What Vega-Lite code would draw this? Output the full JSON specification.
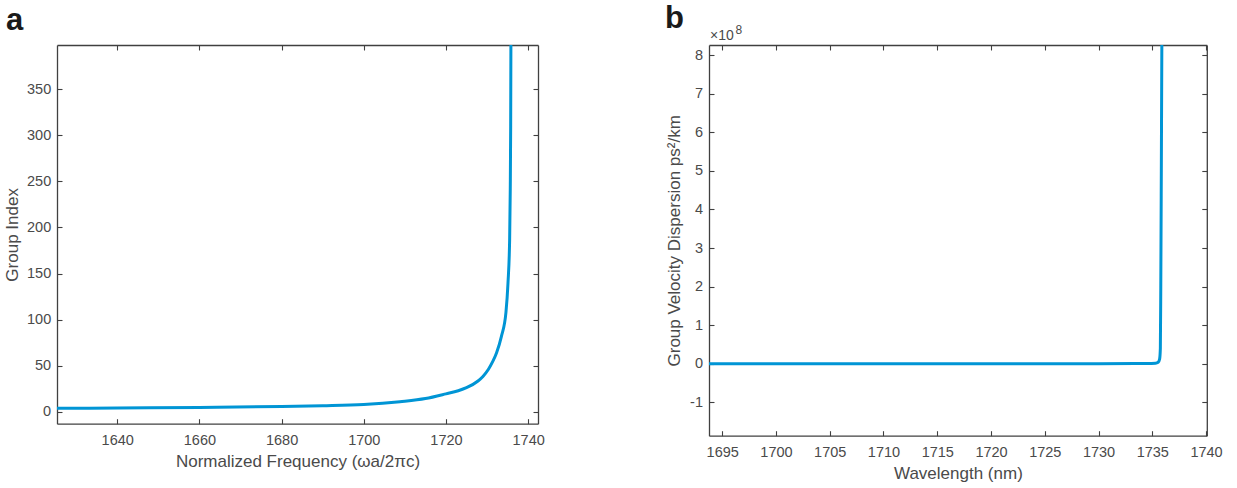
{
  "$schema": "https://vega.github.io/schema/vega-lite/v6.json",
  "padding": {"left": 3, "top": 2, "right": 0, "bottom": 0},
  "background": "white",
  "bounds": "flush",
  "spacing": 171,
  "config": {
    "font": "Liberation Sans",
    "view": {"stroke": null},
    "axis": {
      "grid": false,
      "domainColor": "#404040",
      "domainWidth": 1.3,
      "tickColor": "#404040",
      "tickWidth": 1.1,
      "tickSize": -5,
      "labelColor": "#4a4a4a",
      "titleColor": "#4a4a4a",
      "labelFont": "Liberation Sans",
      "titleFont": "Liberation Sans",
      "labelFontSize": 14.5,
      "titleFontSize": 17,
      "titleFontWeight": "normal",
      "labelFlush": false,
      "labelOverlap": false,
      "labelBound": false,
      "format": "d"
    }
  },
  "hconcat": [
    {
      "width": 481,
      "height": 378.7,
      "title": {"text": "a", "anchor": "start", "frame": "group", "dx": -51, "fontSize": 31, "fontWeight": "bold", "color": "#1a1a1a", "font": "Liberation Sans", "offset": 7.6},
      "data": {"values": [
        {"f": 1625.35, "ng": 4.0},
        {"f": 1640, "ng": 4.3},
        {"f": 1660, "ng": 4.9},
        {"f": 1680, "ng": 5.9},
        {"f": 1690, "ng": 6.8},
        {"f": 1700, "ng": 8.2},
        {"f": 1708.8, "ng": 11.2},
        {"f": 1715, "ng": 14.5},
        {"f": 1720, "ng": 19.6},
        {"f": 1723, "ng": 23},
        {"f": 1725, "ng": 26.3},
        {"f": 1727.8, "ng": 33.6},
        {"f": 1729, "ng": 38.5},
        {"f": 1730.3, "ng": 46},
        {"f": 1731.3, "ng": 54},
        {"f": 1732.3, "ng": 64},
        {"f": 1733.5, "ng": 82},
        {"f": 1734.6, "ng": 108},
        {"f": 1735.1, "ng": 140},
        {"f": 1735.5, "ng": 187},
        {"f": 1735.65, "ng": 241},
        {"f": 1735.75, "ng": 310},
        {"f": 1735.82, "ng": 420}
      ]},
      "layer": [
        {
          "mark": {"type": "line", "clip": true, "color": "#0095d5", "strokeWidth": 3, "interpolate": "monotone"},
          "encoding": {
            "x": {"field": "f", "type": "quantitative", "scale": {"domain": [1625.35, 1742.4], "nice": false, "zero": false},
                  "axis": {"values": [1640, 1660, 1680, 1700, 1720, 1740], "title": "Normalized Frequency (ωa/2πc)", "labelPadding": 14.5, "titlePadding": 6.5}},
            "y": {"field": "ng", "type": "quantitative", "scale": {"domain": [-12.7, 397.7], "nice": false, "zero": false},
                  "axis": {"values": [0, 50, 100, 150, 200, 250, 300, 350], "title": "Group Index", "labelPadding": 11.3, "titlePadding": 5}}
          }
        },
        {
          "mark": {"type": "line", "opacity": 0, "clip": true},
          "encoding": {
            "x": {"field": "f", "type": "quantitative", "scale": {"domain": [1625.35, 1742.4], "nice": false, "zero": false},
                  "axis": {"orient": "top", "values": [1640, 1660, 1680, 1700, 1720, 1740], "labels": false, "title": null}},
            "y": {"field": "ng", "type": "quantitative", "scale": {"domain": [-12.7, 397.7], "nice": false, "zero": false},
                  "axis": {"orient": "right", "values": [0, 50, 100, 150, 200, 250, 300, 350], "labels": false, "title": null}}
          }
        }
      ],
      "resolve": {"axis": {"x": "independent", "y": "independent"}}
    },
    {
      "width": 497.8,
      "height": 390.7,
      "title": {"text": "b", "anchor": "start", "frame": "group", "dx": -44, "fontSize": 31, "fontWeight": "bold", "color": "#1a1a1a", "font": "Liberation Sans", "offset": -11},
      "data": {"values": [
        {"wl": 1693.77, "gvd": 0},
        {"wl": 1705, "gvd": 0},
        {"wl": 1715, "gvd": 0},
        {"wl": 1725, "gvd": 0.002},
        {"wl": 1730, "gvd": 0.004},
        {"wl": 1734.5, "gvd": 0.008},
        {"wl": 1735.3, "gvd": 0.015},
        {"wl": 1735.55, "gvd": 0.04},
        {"wl": 1735.68, "gvd": 0.12},
        {"wl": 1735.75, "gvd": 0.4},
        {"wl": 1735.79, "gvd": 2},
        {"wl": 1735.84, "gvd": 5},
        {"wl": 1735.9, "gvd": 9}
      ]},
      "layer": [
        {
          "mark": {"type": "line", "clip": true, "color": "#0095d5", "strokeWidth": 3, "interpolate": "monotone"},
          "encoding": {
            "x": {"field": "wl", "type": "quantitative", "scale": {"domain": [1693.77, 1740.07], "nice": false, "zero": false},
                  "axis": {"values": [1695, 1700, 1705, 1710, 1715, 1720, 1725, 1730, 1735, 1740], "title": "Wavelength (nm)", "labelPadding": 14.5, "titlePadding": 6.5}},
            "y": {"field": "gvd", "type": "quantitative", "scale": {"domain": [-1.863, 8.26], "nice": false, "zero": false},
                  "axis": {"values": [-1, 0, 1, 2, 3, 4, 5, 6, 7, 8], "title": "Group Velocity Dispersion ps²/km", "labelPadding": 11.5, "titlePadding": 6,
                           "labelExpr": "datum.value < 0 ? '-' + abs(datum.value) : '' + datum.value"}}
          }
        },
        {
          "mark": {"type": "line", "opacity": 0, "clip": true},
          "encoding": {
            "x": {"field": "wl", "type": "quantitative", "scale": {"domain": [1693.77, 1740.07], "nice": false, "zero": false},
                  "axis": {"orient": "top", "values": [1695, 1700, 1705, 1710, 1715, 1720, 1725, 1730, 1735, 1740], "labels": false, "title": null}},
            "y": {"field": "gvd", "type": "quantitative", "scale": {"domain": [-1.863, 8.26], "nice": false, "zero": false},
                  "axis": {"orient": "right", "values": [-1, 0, 1, 2, 3, 4, 5, 6, 7, 8], "labels": false, "title": null}}
          }
        },
        {
          "data": {"values": [{"base": "×10", "exp": "8"}]},
          "layer": [
            {
              "mark": {"type": "text", "align": "left", "baseline": "alphabetic", "fontSize": 14, "color": "#4a4a4a", "dx": 1, "dy": -5.3},
              "encoding": {
                "x": {"datum": 1693.77, "type": "quantitative", "scale": {"domain": [1693.77, 1740.07], "nice": false, "zero": false}, "axis": null},
                "y": {"datum": 8.26, "type": "quantitative", "scale": {"domain": [-1.863, 8.26], "nice": false, "zero": false}, "axis": null},
                "text": {"field": "base"}
              }
            },
            {
              "mark": {"type": "text", "align": "left", "baseline": "alphabetic", "fontSize": 12, "color": "#4a4a4a", "dx": 26.5, "dy": -11.5},
              "encoding": {
                "x": {"datum": 1693.77, "type": "quantitative", "scale": {"domain": [1693.77, 1740.07], "nice": false, "zero": false}, "axis": null},
                "y": {"datum": 8.26, "type": "quantitative", "scale": {"domain": [-1.863, 8.26], "nice": false, "zero": false}, "axis": null},
                "text": {"field": "exp"}
              }
            }
          ]
        }
      ],
      "resolve": {"axis": {"x": "independent", "y": "independent"}}
    }
  ]
}
